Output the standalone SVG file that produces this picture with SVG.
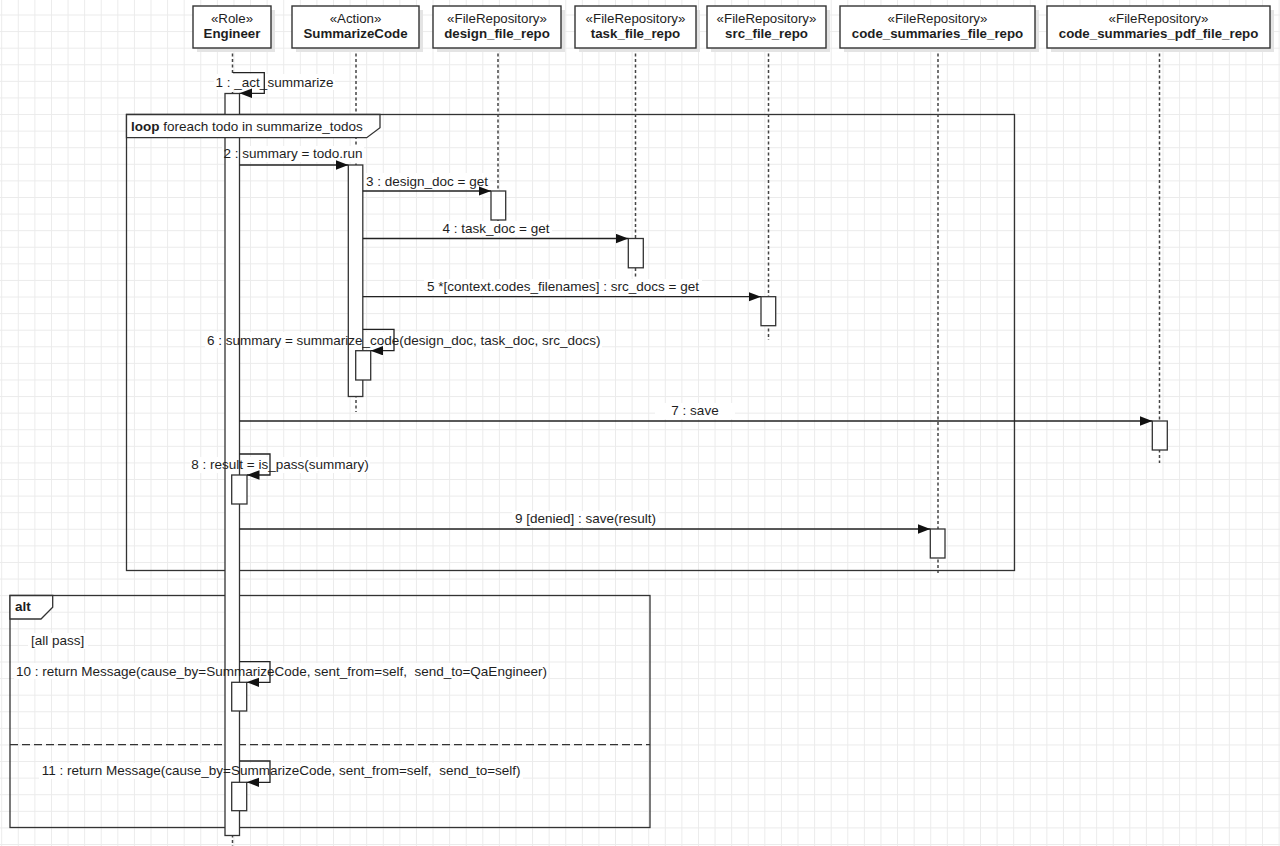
<svg xmlns="http://www.w3.org/2000/svg" width="1280" height="846" viewBox="0 0 1280 846">
<defs>
<pattern id="grid" patternUnits="userSpaceOnUse" x="1.2" y="14.5" width="16.59" height="16.59">
<rect x="0" y="0" width="1" height="16.59" fill="#ebebeb"/>
<rect x="0" y="0" width="16.59" height="1" fill="#ebebeb"/>
</pattern>
<marker id="arr" markerUnits="userSpaceOnUse" markerWidth="14" markerHeight="11" refX="12.5" refY="4.75" orient="auto">
<path d="M0,0 L12.5,4.75 L0,9.5 z" fill="#111"/>
</marker>
<style>
.t{font-family:"Liberation Sans",Arial,sans-serif;font-size:13.5px;fill:#1e1e1e;white-space:pre}
.h{font-size:13.3px}
.b{font-weight:bold}
.m{text-anchor:middle}
.box{fill:#fff;stroke:#333;stroke-width:1.4}
.sh{fill:#e4e4e4}
.life{stroke:#444;stroke-width:1.5;stroke-dasharray:3,2.5;fill:none}
.bar{fill:#fff;stroke:#333;stroke-width:1.3}
.msg{stroke:#222;stroke-width:1.3;fill:none}
.frame{fill:none;stroke:#333;stroke-width:1.3}
.tab{fill:#fff;stroke:#333;stroke-width:1.3}
.lbl{fill:#fff}
</style>
</defs>
<rect width="1280" height="846" fill="#fff"/>
<rect width="1280" height="846" fill="url(#grid)"/>

<!-- frames (outline) -->
<g id="frame-loop-outline">
<rect class="frame" x="126.5" y="114.5" width="888" height="456"/>
</g>
<g id="frame-alt-outline">
<rect class="frame" x="10" y="595.5" width="640" height="232"/>
<line x1="10" y1="744.7" x2="650" y2="744.7" stroke="#333" stroke-width="1.3" stroke-dasharray="8,4"/>
</g>

<!-- lifelines -->
<g id="lifelines">
<line class="life" x1="232.5" y1="48" x2="232.5" y2="846"/>
<line class="life" x1="356" y1="48" x2="356" y2="412"/>
<line class="life" x1="498" y1="48" x2="498" y2="226"/>
<line class="life" x1="635.5" y1="48" x2="635.5" y2="278"/>
<line class="life" x1="768.5" y1="48" x2="768.5" y2="340"/>
<line class="life" x1="938" y1="48" x2="938" y2="573"/>
<line class="life" x1="1159.5" y1="48" x2="1159.5" y2="463"/>
</g>

<!-- label backgrounds -->
<g id="label-bgs">
<rect class="lbl" x="214" y="74" width="121" height="16"/>
<rect class="lbl" x="222" y="146" width="142" height="16"/>
<rect class="lbl" x="364" y="173" width="126" height="16"/>
<rect class="lbl" x="440" y="221" width="112" height="15"/>
<rect class="lbl" x="424" y="279" width="278" height="16"/>
<rect class="lbl" x="205" y="332" width="397" height="16"/>
<rect class="lbl" x="655" y="403" width="80" height="16"/>
<rect class="lbl" x="190" y="457" width="180" height="16"/>
<rect class="lbl" x="512" y="511" width="147" height="16"/>
<rect class="lbl" x="28" y="633" width="60" height="16"/>
<rect class="lbl" x="14" y="663" width="534" height="16"/>
<rect class="lbl" x="39" y="763" width="484" height="16"/>
</g>

<!-- heads -->
<g id="node-engineer">
<rect class="sh" x="197" y="10" width="78" height="42"/>
<rect class="box" x="193" y="6" width="78" height="42"/>
<text class="t h m" x="232" y="23">«Role»</text>
<text class="t h m b" x="232" y="38">Engineer</text>
</g>
<g id="node-summarizecode">
<rect class="sh" x="296" y="10" width="127" height="42"/>
<rect class="box" x="292" y="6" width="127" height="42"/>
<text class="t h m" x="355.5" y="23">«Action»</text>
<text class="t h m b" x="355.5" y="38">SummarizeCode</text>
</g>
<g id="node-design_file_repo">
<rect class="sh" x="437" y="10" width="128" height="42"/>
<rect class="box" x="433" y="6" width="128" height="42"/>
<text class="t h m" x="497" y="23">«FileRepository»</text>
<text class="t h m b" x="497" y="38">design_file_repo</text>
</g>
<g id="node-task_file_repo">
<rect class="sh" x="579" y="10" width="121" height="42"/>
<rect class="box" x="575" y="6" width="121" height="42"/>
<text class="t h m" x="635.5" y="23">«FileRepository»</text>
<text class="t h m b" x="635.5" y="38">task_file_repo</text>
</g>
<g id="node-src_file_repo">
<rect class="sh" x="711" y="10" width="119" height="42"/>
<rect class="box" x="707" y="6" width="119" height="42"/>
<text class="t h m" x="766.5" y="23">«FileRepository»</text>
<text class="t h m b" x="766.5" y="38">src_file_repo</text>
</g>
<g id="node-code_summaries_file_repo">
<rect class="sh" x="844" y="10" width="195" height="42"/>
<rect class="box" x="840" y="6" width="195" height="42"/>
<text class="t h m" x="937.5" y="23">«FileRepository»</text>
<text class="t h m b" x="937.5" y="38">code_summaries_file_repo</text>
</g>
<g id="node-code_summaries_pdf_file_repo">
<rect class="sh" x="1051" y="10" width="223" height="42"/>
<rect class="box" x="1047" y="6" width="223" height="42"/>
<text class="t h m" x="1158.5" y="23">«FileRepository»</text>
<text class="t h m b" x="1158.5" y="38">code_summaries_pdf_file_repo</text>
</g>

<!-- activation bars -->
<g id="activations">
<rect class="bar" x="225" y="93.5" width="14.5" height="742"/>
<rect class="bar" x="348.3" y="165" width="14.5" height="231.5"/>
<rect class="bar" x="491" y="191" width="14.7" height="29"/>
<rect class="bar" x="628.3" y="238.5" width="15" height="29.3"/>
<rect class="bar" x="761" y="296.7" width="14.7" height="29"/>
<rect class="bar" x="355.7" y="350.7" width="15" height="29.3"/>
<rect class="bar" x="1152.3" y="421" width="15" height="29"/>
<rect class="bar" x="231.7" y="475" width="15.3" height="29"/>
<rect class="bar" x="930.3" y="529" width="14.7" height="29"/>
<rect class="bar" x="231.7" y="682.3" width="15" height="28.7"/>
<rect class="bar" x="231.7" y="782.3" width="15" height="28.4"/>
</g>

<!-- frame tabs (drawn above bars) -->
<g id="frame-loop-tab">
<path class="tab" d="M126.5,114.5 L380,114.5 L380,127.7 L366.7,137.7 L126.5,137.7 z"/>
<text class="t" x="131" y="130.5"><tspan class="b">loop</tspan> foreach todo in summarize_todos</text>
</g>
<g id="frame-alt-tab">
<path class="tab" d="M10,595.5 L52.7,595.5 L52.7,607.3 L41,619 L10,619 z"/>
<text class="t b" x="15" y="611">alt</text>
<text class="t" x="31" y="645">[all pass]</text>
</g>

<!-- connectors -->
<g id="connectors">
<path class="msg" d="M233,72.7 L264.3,72.7 L264.3,93.3 L239.5,93.3" marker-end="url(#arr)"/>
<path class="msg" d="M239.5,165 L348.3,165" marker-end="url(#arr)"/>
<path class="msg" d="M362.8,191 L491,191" marker-end="url(#arr)"/>
<path class="msg" d="M362.8,238.5 L628.3,238.5" marker-end="url(#arr)"/>
<path class="msg" d="M362.8,296.7 L761,296.7" marker-end="url(#arr)"/>
<path class="msg" d="M362.8,329.3 L394,329.3 L394,350.7 L370.7,350.7" marker-end="url(#arr)"/>
<path class="msg" d="M239.5,421 L1152.3,421" marker-end="url(#arr)"/>
<path class="msg" d="M239.5,454 L270,454 L270,475 L247,475" marker-end="url(#arr)"/>
<path class="msg" d="M239.5,529 L930.3,529" marker-end="url(#arr)"/>
<path class="msg" d="M239.5,661.7 L270,661.7 L270,682.3 L246.7,682.3" marker-end="url(#arr)"/>
<path class="msg" d="M239.5,761 L270,761 L270,782.3 L246.7,782.3" marker-end="url(#arr)"/>
</g>

<!-- message labels -->
<g id="labels">
<text class="t m" x="274.5" y="86.5">1 : _act_summarize</text>
<text class="t m" x="293" y="158">2 : summary = todo.run</text>
<text class="t m" x="427" y="185.5">3 : design_doc = get</text>
<text class="t m" x="496" y="232.5">4 : task_doc = get</text>
<text class="t m" x="563" y="290.5">5 *[context.codes_filenames] : src_docs = get</text>
<text class="t m" x="403.7" y="344.5">6 : summary = summarize_code(design_doc, task_doc, src_docs)</text>
<text class="t m" x="695" y="415">7 : save</text>
<text class="t m" x="280" y="469">8 : result = is_pass(summary)</text>
<text class="t m" x="585.5" y="523">9 [denied] : save(result)</text>
<text class="t" x="16" y="675.5">10 : return Message(cause_by=SummarizeCode, sent_from=self,  send_to=QaEngineer)</text>
<text class="t" x="41.7" y="775">11 : return Message(cause_by=SummarizeCode, sent_from=self,  send_to=self)</text>
</g>
</svg>
